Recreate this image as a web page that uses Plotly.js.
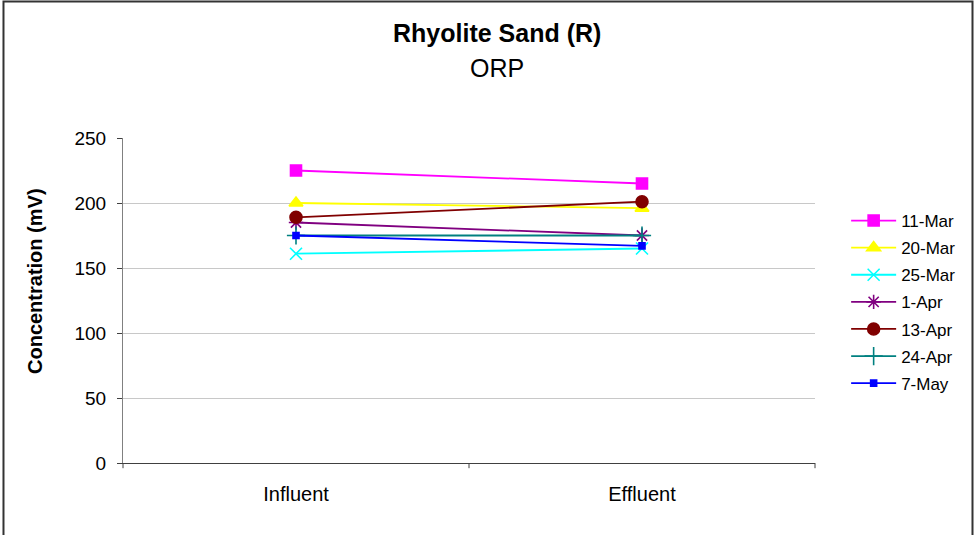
<!DOCTYPE html>
<html><head><meta charset="utf-8">
<script src="https://cdn.plot.ly/plotly-3.0.1.min.js"></script>
<style>html,body{margin:0;padding:0;background:#fff}#chart{width:974px;height:535px}</style>
</head><body><div id="chart"></div>
<script>
const categories = ["Influent", "Effluent"];
const seriesNames = ["11-Mar", "20-Mar", "25-Mar", "1-Apr", "13-Apr", "24-Apr", "7-May"];
const mar11 = [225, 215];
const mar20 = [200, 196];
const mar25 = [161, 165];
const apr1 = [185, 175];
const apr13 = [189, 201];
const apr24 = [175, 175];
const may7 = [175, 167];
const yTicks = [0, 50, 100, 150, 200, 250];

const values = [mar11, mar20, mar25, apr1, apr13, apr24, may7];
const colors = ["#FF00FF", "#FFFF00", "#00FFFF", "#800080", "#800000", "#008080", "#0000FF"];
const symbols = ["square", "triangle-up", "x-thin-open", "asterisk-open", "circle", "cross-thin-open", "square"];
const sizes = [11, 12, 12, 12, 12, 13, 6];
const FONT = "Arial, 'Liberation Sans', sans-serif";

const traces = values.map((v, i) => ({
  type: "scatter", mode: "lines+markers",
  x: categories, y: v, name: seriesNames[i], legendgroup: "g" + i,
  line: {color: colors[i], width: 1.8},
  marker: {symbol: symbols[i], size: sizes[i], color: colors[i], line: {color: colors[i], width: 1.6}}
}));

const layout = {
  width: 974, height: 535,
  margin: {l: 123, r: 159, t: 138, b: 72},
  paper_bgcolor: "#fff", plot_bgcolor: "#fff",
  font: {family: FONT, size: 19, color: "#000"},
  xaxis: {type: "category", range: [-0.5, 1.5], showgrid: false, showline: true, linecolor: "#404040", linewidth: 1,
          ticks: "", tickfont: {size: 20}, ticklabelstandoff: 13, zeroline: false, fixedrange: true},
  yaxis: {range: [0, 250], tickvals: yTicks, showgrid: true, gridcolor: "#c8c8c8", gridwidth: 1,
          showline: true, linecolor: "#808080", linewidth: 1, ticks: "outside", ticklen: 5, tickcolor: "#404040",
          tickfont: {size: 19}, ticklabelstandoff: 7, zeroline: false},
  legend: {x: 1.045, xanchor: "left", y: 0.80, yanchor: "top", font: {size: 17}, tracegroupgap: 2,
           itemwidth: 45, bgcolor: "rgba(0,0,0,0)"},
  showlegend: true,
  annotations: [
    {text: "<b>Rhyolite Sand (R)</b>", xref: "paper", yref: "paper", x: 0.5405, y: 1.323, showarrow: false,
     xanchor: "center", yanchor: "middle", font: {size: 25, family: FONT}},
    {text: "ORP", xref: "paper", yref: "paper", x: 0.5405, y: 1.215, showarrow: false,
     xanchor: "center", yanchor: "middle", font: {size: 25, family: FONT}},
    {text: "<b>Concentration (mV)</b>", xref: "paper", yref: "paper", x: (35 - 123) / 692, y: 0.56, showarrow: false,
     textangle: -90, xanchor: "center", yanchor: "middle", font: {size: 20, family: FONT}}
  ],
  shapes: [
    {type: "rect", xref: "paper", yref: "paper", x0: -0.1727, x1: 1.2276, y0: -0.25, y1: 1.42,
     line: {color: "#333", width: 2}, fillcolor: "rgba(0,0,0,0)", layer: "below"},
    {type: "line", xref: "paper", yref: "paper", x0: 0, x1: 0, y0: 0, y1: -0.016, line: {color: "#404040", width: 1}},
    {type: "line", xref: "paper", yref: "paper", x0: 0.5, x1: 0.5, y0: 0, y1: -0.016, line: {color: "#404040", width: 1}},
    {type: "line", xref: "paper", yref: "paper", x0: 1, x1: 1, y0: 0, y1: -0.016, line: {color: "#404040", width: 1}}
  ]
};
Plotly.newPlot("chart", traces, layout, {displayModeBar: false, staticPlot: true});
</script></body></html>
